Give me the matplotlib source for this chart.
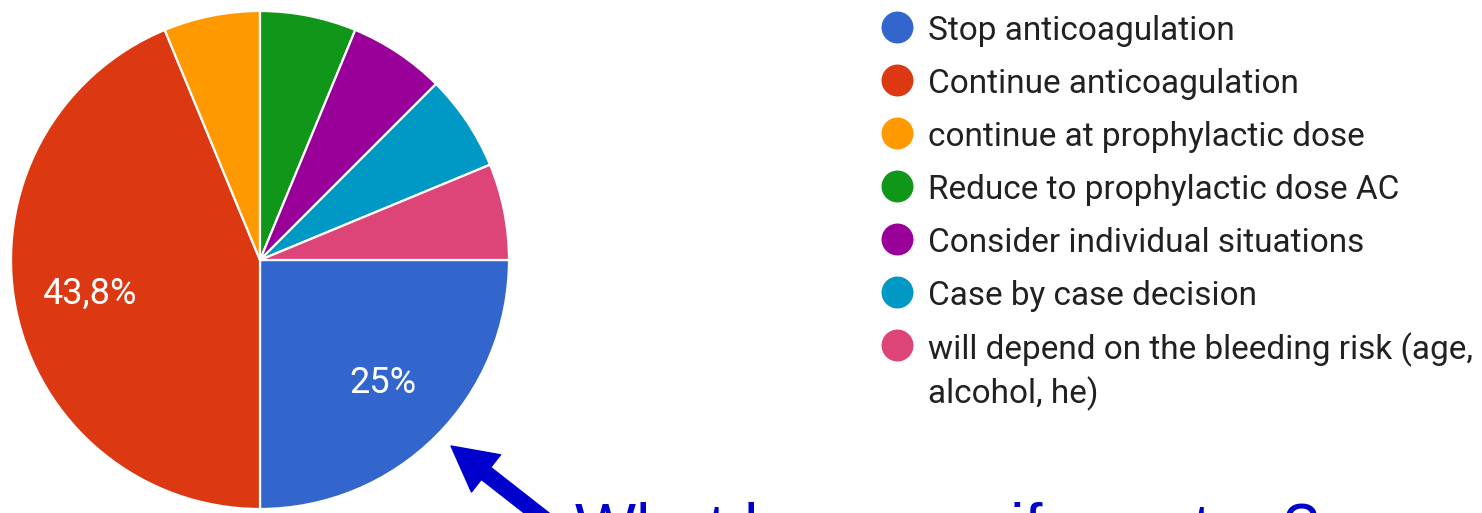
import matplotlib
matplotlib.use("Agg")
import matplotlib.pyplot as plt

# data
labels = ["Stop anticoagulation",
          "Continue anticoagulation",
          "continue at prophylactic dose",
          "Reduce to prophylactic dose AC",
          "Consider individual situations",
          "Case by case decision",
          "will depend on the bleeding risk (age,\nalcohol, he)"]
counts = [4, 7, 1, 1, 1, 1, 1]
colors = ["#3366CC", "#DC3912", "#FF9900", "#109618", "#990099", "#0099C6", "#DD4477"]
question = "What happens if we stop?"

W, H = 1482, 513
fig = plt.figure(figsize=(W / 100, H / 100), dpi=100)

# pie
ax = fig.add_axes([11 / W, 4 / H, 498 / W, 498 / H])


def pct_label(p):
    if p < 10:
        return ""
    s = ("%.1f" % p).replace(".", ",")
    if s.endswith(",0"):
        s = s[:-2]
    return s + "%"


wedges, texts, autotexts = ax.pie(counts, colors=colors, startangle=0, counterclock=False,
                                  autopct=pct_label, pctdistance=0.70, radius=1,
                                  wedgeprops=dict(edgecolor="white", linewidth=1.6),
                                  textprops=dict(color="white", fontsize=26, family="Roboto"))
ax.set_xlim(-1, 1)
ax.set_ylim(-1, 1)
ax.set_aspect("equal")

# overlay in pixel coords for legend, arrow and caption
ov = fig.add_axes([0, 0, 1, 1])
ov.set_xlim(0, W)
ov.set_ylim(H, 0)
ov.axis("off")

line_px = 45
row_y = 27
for lab, col in zip(labels, colors):
    ov.plot(897, row_y, "o", color=col, markersize=23, markeredgewidth=0)
    # baseline of a multi-line text is the last line's
    nl = lab.count("\n")
    ov.text(928, row_y + 13 + nl * line_px, lab, fontsize=24, family="Roboto", color="#212121",
            va="baseline", ha="left", linespacing=1.35)
    row_y += 53

# arrow pointing at the blue slice
ov.annotate("", xy=(451, 446), xytext=(575, 543), xycoords="data", textcoords="data",
            annotation_clip=False,
            arrowprops=dict(arrowstyle="simple,head_width=34,head_length=32,tail_width=11",
                            mutation_scale=1, color="#0000CC", shrinkA=0, shrinkB=0))

ov.text(575, 549, question, fontsize=46.5, family="Liberation Sans", color="#0000CC",
        ha="left", va="baseline", clip_on=False)

fig.savefig("out.png", dpi=100)
